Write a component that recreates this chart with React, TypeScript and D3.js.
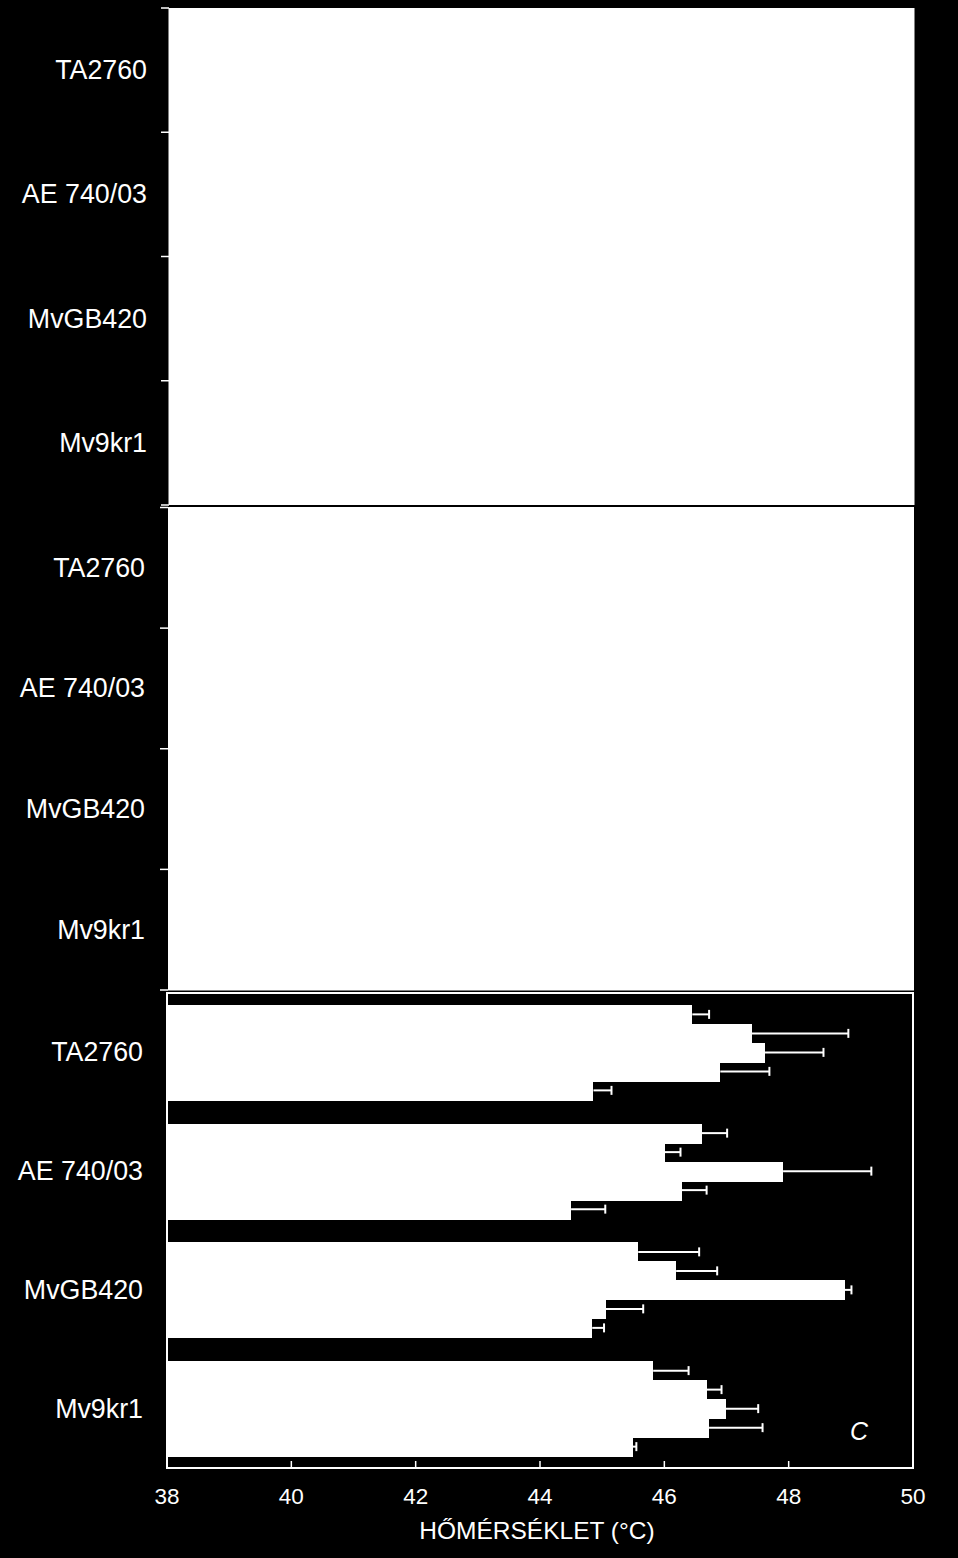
import React from 'react';
import * as d3 from 'd3';

const genotypes = ['TA2760', 'AE 740/03', 'MvGB420', 'Mv9kr1'];
const treatments = ['t1', 't2', 't3', 't4', 't5'];

// panel C: bar values (°C) and error, per genotype, top bar first
const tempC = [
  [46.45, 47.41, 47.62, 46.9, 44.86],
  [46.6, 46.01, 47.91, 46.28, 44.5],
  [45.58, 46.19, 48.9, 45.06, 44.84],
  [45.82, 46.68, 46.99, 46.72, 45.49],
];
const errC = [
  [0.27, 1.55, 0.94, 0.79, 0.29],
  [0.41, 0.25, 1.42, 0.4, 0.55],
  [0.98, 0.66, 0.11, 0.6, 0.19],
  [0.57, 0.24, 0.52, 0.86, 0.06],
];
const xTicks = [38, 40, 42, 44, 46, 48, 50];

const W = 958;
const H = 1558;
const font = '"Liberation Sans", Arial, sans-serif';

const App: React.FC = () => {
  const x = d3.scaleLinear().domain([38, 50]).range([167, 913]);

  // top two panels (white plot areas)
  const yA = d3.scaleBand().domain(genotypes).range([8, 505]);
  const yB = d3.scaleBand().domain(genotypes).range([507.5, 990]);
  const yC = d3.scaleBand().domain(genotypes).range([993, 1468]).paddingInner(0.2).paddingOuter(0.1);
  const yInner = d3.scaleBand().domain(treatments).range([0, yC.bandwidth()]);

  const labelPanel = (y: d3.ScaleBand<string>, labelX: number, tickX: number, ticks: boolean) => (
    <g>
      {genotypes.map(g => (
        <text key={g} x={labelX} y={(y(g) as number) + y.bandwidth() / 2} textAnchor="end"
          dominantBaseline="central" fill="#fff" fontSize={26.8} fontFamily={font}>{g}</text>
      ))}
      {ticks && [...genotypes.map(g => y(g) as number), y.range()[1]].map((t, i) => (
        <line key={i} x1={tickX} x2={tickX + 8} y1={t} y2={t} stroke="#fff" strokeWidth={1.5} />
      ))}
    </g>
  );

  return (
    <svg width={W} height={H} style={{ position: 'absolute', left: 0, top: 0, display: 'block' }}>
      <rect x={0} y={0} width={W} height={H} fill="#000" />

      {/* panel A */}
      <rect x={168.5} y={8} width={746} height={497} fill="#fff" />
      <line x1={161} x2={915} y1={506} y2={506} stroke="#000" strokeWidth={2} />
      {labelPanel(yA, 147, 161, true)}

      {/* panel B */}
      <rect x={168} y={507} width={746} height={483.5} fill="#fff" />
      {labelPanel(yB, 145, 160, true)}

      {/* panel C */}
      {genotypes.map((g, gi) => (
        <g key={g} transform={`translate(0,${yC(g)})`}>
          {treatments.map((t, ti) => {
            const v = tempC[gi][ti];
            const e = errC[gi][ti];
            const by = yInner(t) as number;
            const cy = by + yInner.bandwidth() / 2;
            return (
              <g key={t}>
                <rect x={x(38)} y={by} width={x(v) - x(38)} height={yInner.bandwidth() + 1} fill="#fff"
                  shapeRendering="crispEdges" />
                <line x1={x(v)} x2={x(v + e)} y1={cy} y2={cy} stroke="#fff" strokeWidth={2} />
                <line x1={x(v + e)} x2={x(v + e)} y1={cy - 4.5} y2={cy + 4.5} stroke="#fff" strokeWidth={2} />
              </g>
            );
          })}
        </g>
      ))}
      <rect x={167} y={993} width={746} height={475} fill="none" stroke="#fff" strokeWidth={2} />
      {labelPanel(yC, 143, 160, false)}
      <text x={859} y={1431} textAnchor="middle" dominantBaseline="central" fill="#fff"
        fontSize={25} fontStyle="italic" fontFamily={font}>C</text>

      {/* x axis */}
      {xTicks.map(t => (
        <g key={t}>
          {t > 38 && t < 50 && (
            <line x1={x(t)} x2={x(t)} y1={1468} y2={1461} stroke="#fff" strokeWidth={1.5} />
          )}
          <text x={x(t)} y={1496} textAnchor="middle" dominantBaseline="central" fill="#fff"
            fontSize={22.5} fontFamily={font}>{t}</text>
        </g>
      ))}
      <text x={537} y={1530} textAnchor="middle" dominantBaseline="central" fill="#fff"
        fontSize={24.5} fontFamily={font}>HŐMÉRSÉKLET (°C)</text>
    </svg>
  );
};

export default App;
